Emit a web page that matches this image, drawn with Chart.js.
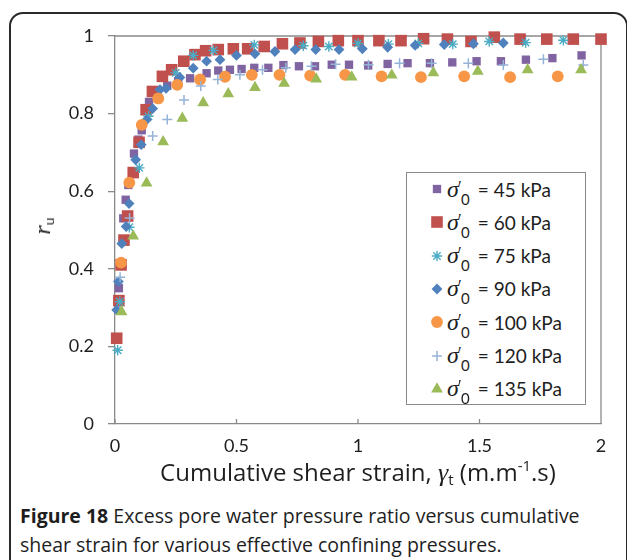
<!DOCTYPE html>
<html lang="en">
<head>
<meta charset="UTF-8">
<title>Figure 18</title>
<script src="https://cdn.jsdelivr.net/npm/chart.js"></script>
<style>
  body { margin: 0; width: 627px; height: 560px; overflow: hidden; background: #fff; position: relative; font-family: Lato, sans-serif; color: #1e1e1e; }
  #frame { position: absolute; left: 9px; top: 12px; width: 619px; height: 620px; border: 2px solid #2a2a2a; border-radius: 14px; box-sizing: border-box; }
  #chartBox { position: absolute; left: 0; top: 0; width: 627px; height: 470px; }
  #ytitle { position: absolute; left: 43px; top: 226px; transform: translate(-50%, -50%) rotate(-90deg); font-family: "Liberation Serif", serif; font-style: italic; font-size: 24px; white-space: nowrap; }
  #ytitle sub { font-family: Lato, sans-serif; font-style: normal; font-size: 14px; vertical-align: -4px; }
  #xtitle { position: absolute; left: 358px; top: 472px; transform: translate(-50%, -50%); font-family: "Open Sans", sans-serif; font-size: 24px; white-space: nowrap; }
  #xtitle .g { font-family: "Liberation Serif", serif; font-style: italic; font-size: 26px; }
  #xtitle sub { font-size: 15px; vertical-align: -4px; }
  #xtitle sup { font-size: 15px; vertical-align: 10px; }
  #legend { position: absolute; left: 406px; top: 172px; width: 180px; height: 233px; border: 1px solid #8a8a8a; box-sizing: border-box; background: #fff; }
  .row { position: absolute; left: 0; height: 30px; display: flex; align-items: center; font-size: 19px; white-space: nowrap; }
  .row canvas { margin-left: 21px; margin-right: 1px; }
  .sig { position: relative; font-family: "Liberation Serif", serif; font-style: italic; font-size: 24px; margin-right: 19px; }
  .sig .pr { position: absolute; left: 11px; top: 1px; font-style: normal; font-size: 17px; }
  .sig .sb { position: absolute; left: 14px; top: 14px; font-family: Lato, sans-serif; font-style: normal; font-size: 15px; }
  #caption { position: absolute; left: 20px; top: 501px; width: 610px; font-family: "Open Sans", sans-serif; font-size: 19.5px; line-height: 29px; color: #1e1e1e; white-space: nowrap; }
  #caption b { font-weight: 700; }
</style>
</head>
<body>
<div id="frame"></div>
<div id="chartBox"><canvas id="chart" width="627" height="470"></canvas></div>
<div id="ytitle">r<sub>u</sub></div>
<div id="xtitle">Cumulative shear strain, <span class="g">γ</span><sub>t</sub> (m.m<sup>-1</sup>.s)</div>
<div id="legend"></div>
<div id="caption"><b>Figure 18</b> Excess pore water pressure ratio versus cumulative<br>shear strain for various effective confining pressures.</div>
<script>
  // effective confining pressure of each test (kPa)
  const pressures = [45, 60, 75, 90, 100, 120, 135];

  // cumulative shear strain (x) and pore pressure ratio r_u (y)
  const strain45 = [0.016, 0.034, 0.044, 0.055, 0.078, 0.096, 0.11, 0.14, 0.175, 0.215, 0.26, 0.309, 0.377, 0.425, 0.473, 0.521, 0.573, 0.631, 0.693, 0.757, 0.823, 0.892, 0.963, 1.042, 1.122, 1.204, 1.296, 1.388, 1.488, 1.588, 1.691, 1.8, 1.92];
  const ru45 = [0.35, 0.53, 0.578, 0.616, 0.697, 0.733, 0.757, 0.83, 0.857, 0.872, 0.884, 0.891, 0.904, 0.911, 0.913, 0.915, 0.918, 0.918, 0.925, 0.922, 0.922, 0.926, 0.926, 0.924, 0.928, 0.93, 0.93, 0.932, 0.935, 0.935, 0.939, 0.943, 0.95];

  const strain60 = [0.007, 0.016, 0.025, 0.037, 0.052, 0.075, 0.099, 0.128, 0.154, 0.195, 0.233, 0.283, 0.329, 0.373, 0.425, 0.487, 0.546, 0.614, 0.689, 0.761, 0.837, 0.919, 1.0, 1.086, 1.177, 1.27, 1.368, 1.465, 1.561, 1.667, 1.777, 1.886, 2.0];
  const ru60 = [0.221, 0.318, 0.41, 0.474, 0.536, 0.648, 0.726, 0.81, 0.857, 0.896, 0.913, 0.935, 0.952, 0.962, 0.965, 0.967, 0.967, 0.973, 0.98, 0.982, 0.986, 0.988, 0.988, 0.988, 0.988, 0.993, 0.992, 0.986, 0.997, 0.992, 0.992, 0.992, 0.992];

  const strain75 = [0.011, 0.02, 0.059, 0.1, 0.138, 0.25, 0.322, 0.405, 0.573, 0.775, 0.88, 1.0, 1.125, 1.248, 1.39, 1.54, 1.69, 1.845];
  const ru75 = [0.19, 0.315, 0.507, 0.66, 0.793, 0.905, 0.95, 0.963, 0.977, 0.975, 0.973, 0.981, 0.979, 0.981, 0.979, 0.986, 0.983, 0.989];

  const strain90 = [0.007, 0.014, 0.028, 0.046, 0.058, 0.085, 0.108, 0.13, 0.155, 0.185, 0.21, 0.267, 0.322, 0.377, 0.432, 0.5, 0.576, 0.658, 0.741, 0.826, 0.922, 1.018, 1.122, 1.235, 1.355, 1.475, 1.598];
  const ru90 = [0.294, 0.367, 0.465, 0.509, 0.568, 0.681, 0.72, 0.784, 0.813, 0.862, 0.865, 0.893, 0.917, 0.935, 0.939, 0.95, 0.954, 0.96, 0.965, 0.965, 0.965, 0.967, 0.971, 0.976, 0.978, 0.98, 0.982];

  const strain100 = [0.025, 0.059, 0.11, 0.178, 0.256, 0.35, 0.453, 0.563, 0.677, 0.803, 0.947, 1.097, 1.259, 1.437, 1.626, 1.822];
  const ru100 = [0.416, 0.622, 0.771, 0.839, 0.874, 0.888, 0.895, 0.9, 0.9, 0.898, 0.9, 0.896, 0.894, 0.896, 0.894, 0.896];

  const strain120 = [0.021, 0.06, 0.155, 0.215, 0.284, 0.353, 0.423, 0.514, 0.607, 0.703, 0.809, 0.908, 1.043, 1.171, 1.303, 1.454, 1.598, 1.763, 1.927];
  const ru120 = [0.378, 0.531, 0.742, 0.785, 0.835, 0.871, 0.888, 0.9, 0.913, 0.918, 0.922, 0.927, 0.926, 0.93, 0.93, 0.93, 0.925, 0.94, 0.925];

  const strain135 = [0.027, 0.075, 0.13, 0.198, 0.277, 0.363, 0.466, 0.576, 0.696, 0.828, 0.974, 1.139, 1.31, 1.493, 1.698, 1.918];
  const ru135 = [0.289, 0.484, 0.621, 0.727, 0.788, 0.828, 0.851, 0.867, 0.878, 0.889, 0.894, 0.899, 0.905, 0.909, 0.913, 0.913];

  const xTicks = [0, 0.5, 1, 1.5, 2];
  const yTicks = [0, 0.2, 0.4, 0.6, 0.8, 1];

  const strains = [strain45, strain60, strain75, strain90, strain100, strain120, strain135];
  const ratios = [ru45, ru60, ru75, ru90, ru100, ru120, ru135];

  // marker look of each series (excel 2007 default palette)
  const markers = [
    { style: 'rect', r: 5.9, color: '#8064A2', bw: 0 },
    { style: 'rect', r: 8.2, color: '#C0504D', bw: 0 },
    { style: 'star', r: 5.2, color: '#4BACC6', bw: 1.4 },
    { style: 'rectRot', r: 5.4, color: '#4F81BD', bw: 0 },
    { style: 'circle', r: 5.9, color: '#F79646', bw: 0 },
    { style: 'cross', r: 5, color: '#95B3D7', bw: 1.5 },
    { style: 'triangle', r: 6.8, color: '#9BBB59', bw: 0 }
  ];

  const datasets = pressures.map((p, i) => ({
    label: `σ'0 = ${p} kPa`,
    data: strains[i].map((x, k) => ({ x: x, y: ratios[i][k] })),
    showLine: false,
    pointStyle: markers[i].style,
    pointRadius: markers[i].r,
    pointBackgroundColor: markers[i].color,
    pointBorderColor: markers[i].color,
    pointBorderWidth: markers[i].bw,
    order: pressures.length - i, // later series on top, like excel
    clip: false
  }));

  // top / right box lines and the small inward ticks of the x axis
  const plotFrame = {
    id: 'plotFrame',
    beforeDatasetsDraw(chart) {
      const { ctx, chartArea: a, scales } = chart;
      ctx.save();
      ctx.strokeStyle = '#8a8a8a';
      ctx.lineWidth = 1.3;
      ctx.beginPath();
      ctx.moveTo(a.left, a.top);
      ctx.lineTo(a.right, a.top);
      ctx.lineTo(a.right, a.bottom);
      scales.x.ticks.forEach(t => {
        const px = scales.x.getPixelForValue(t.value);
        ctx.moveTo(px, a.bottom);
        ctx.lineTo(px, a.bottom - 5);
      });
      ctx.stroke();
      ctx.restore();
    }
  };

  const tickFont = { family: 'Lato', size: 18 };

  const chart = new Chart(document.getElementById('chart'), {
    type: 'scatter',
    data: { datasets: datasets },
    options: {
      responsive: false,
      animation: false,
      layout: { padding: { top: 36, right: 26, left: 0, bottom: 0 } },
      plugins: { legend: { display: false }, tooltip: { enabled: false } },
      scales: {
        x: {
          type: 'linear', min: 0, max: 2,
          afterBuildTicks: s => { s.ticks = xTicks.map(v => ({ value: v })); },
          afterFit: s => { s.height = 46; },
          ticks: { font: tickFont, color: '#1e1e1e', padding: 11, maxRotation: 0, callback: v => String(v) },
          grid: { drawOnChartArea: false, drawTicks: false },
          border: { color: '#8a8a8a', width: 1.3 }
        },
        y: {
          type: 'linear', min: 0, max: 1,
          afterBuildTicks: s => { s.ticks = yTicks.map(v => ({ value: v })); },
          afterFit: s => { s.width = 115; },
          ticks: { font: tickFont, color: '#1e1e1e', padding: 14, callback: v => String(v) },
          grid: { drawOnChartArea: false, drawTicks: true, tickLength: 7, color: '#8a8a8a', lineWidth: 1.3 },
          border: { color: '#8a8a8a', width: 1.3 }
        }
      }
    },
    plugins: [plotFrame]
  });

  // html legend, so the sigma can carry its prime and subscript
  const legend = document.getElementById('legend');
  pressures.forEach((p, i) => {
    const row = document.createElement('div');
    row.className = 'row';
    row.style.top = (1 + i * 33.3) + 'px';
    const c = document.createElement('canvas');
    c.width = 18; c.height = 18;
    const cx = c.getContext('2d');
    cx.fillStyle = markers[i].color;
    cx.strokeStyle = markers[i].color;
    cx.lineWidth = markers[i].bw;
    Chart.helpers.drawPoint(cx, { pointStyle: markers[i].style, radius: markers[i].r, borderWidth: markers[i].bw, rotation: 0 }, 9, 9);
    row.appendChild(c);
    const t = document.createElement('span');
    t.innerHTML = `<span class="sig">σ<span class="pr">′</span><span class="sb">0</span></span>= ${p} kPa`;
    row.appendChild(t);
    legend.appendChild(row);
  });
</script>
</body>
</html>
